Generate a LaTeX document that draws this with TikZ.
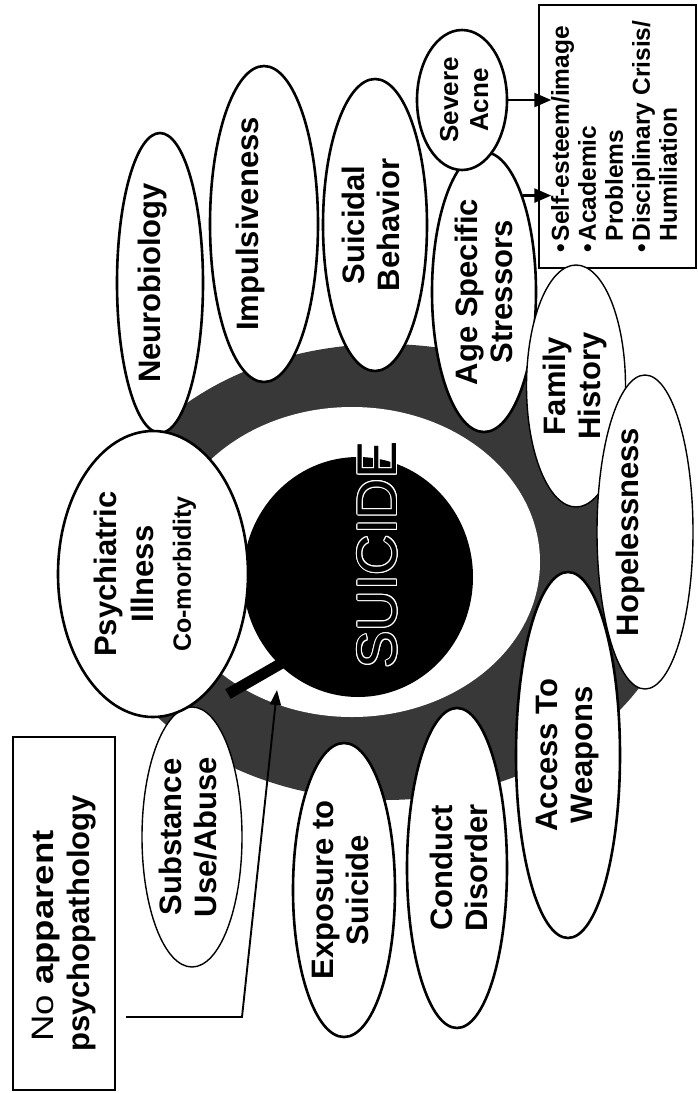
\documentclass[tikz,border=0pt]{standalone}
\usepackage{fontspec}
\setmainfont{Liberation Sans}
\usepackage{graphicx}
\usetikzlibrary{shapes.geometric,arrows.meta,calc}
\definecolor{ringgray}{gray}{0.22}
\newcommand{\rlab}[3]{\hspace*{#1}\rotatebox{90}{\begin{tabular}{@{}c@{}}#3\end{tabular}}\hspace*{#2}}
\newcommand{\bul}{\makebox[11pt][l]{•}}
\begin{document}
\begin{tikzpicture}[x=1pt,y=-1pt,
  bub/.style={ellipse, draw, line width=2.6pt, fill=white, inner sep=0pt, text=black, font=\fontsize{31}{35}\selectfont\bfseries},
  thinbub/.style={bub, line width=1.4pt},
  arr/.style={line width=2.6pt, -{Triangle[length=17pt,width=14pt]}},
  thinarr/.style={line width=1.9pt, -{Triangle[length=15pt,width=11pt]}},
  bigword/.style={rotate=90, inner sep=0pt, font=\fontsize{56}{60}\selectfont}
]
\useasboundingbox (0,0) rectangle (697,1093);
\fill[white] (0,0) rectangle (697,1093);

% rings
\fill[ringgray] (385,572) ellipse [x radius=295pt, y radius=228pt];
\fill[white] (352,562) ellipse [x radius=188pt, y radius=155pt];
\node[ellipse, fill=black, inner sep=0pt, minimum width=230pt, minimum height=240pt] (disk) at (358,577) {};

% SUICIDE with white outline
\foreach \a in {0,30,...,330}
  \node[bigword, text=white] (sw\a) at ($(377.5,555)+(\a:1.1pt)$) {SUICIDE};
\node[bigword, text=black] (suicide) at (377.5,555) {SUICIDE};

% thick band from Psychiatric towards the centre
\coordinate (bandA) at (228,694);
\draw[line width=11pt, shorten >=-15pt] (bandA) -- (disk.228);

% boxes
\node[draw, line width=2pt, minimum width=102pt, minimum height=353pt, inner sep=0pt,
      font=\fontsize{31}{36}\selectfont\bfseries] (nap) at (64,913.5)
  {\rotatebox{90}{\begin{tabular}{@{}l@{\hspace{20pt}}}\hspace{10pt}\scalebox{1.18}[1]{{\mdseries No} apparent}\\psychopathology\end{tabular}}};

\node[draw, line width=1.5pt, minimum width=157pt, minimum height=263pt, inner sep=0pt,
      font=\fontsize{24.5}{27}\selectfont\bfseries] (rbox) at (617.5,136.5)
  {\rotatebox{90}{\begin{tabular}{@{}l@{}}\bul Self-esteem/image\\\bul Academic\\\hspace{11pt}Problems\\\bul Disciplinary Crisis/\\\hspace{11pt}Humiliation\end{tabular}}};

% thin connector from the "No apparent psychopathology" box
\coordinate (n1) at (242,1017);
\coordinate (n0) at ($(nap.east |- n1)+(10,0)$);
\coordinate (ntip) at (277,690);
\draw[thinarr] (n0) -- (n1) -- (ntip);

% bubbles
\node[bub, minimum width=86pt, minimum height=300pt] (neuro) at (160,283) {\rlab{-14pt}{0pt}{Neurobiology}};
\node[bub, minimum width=108pt, minimum height=316pt] (impul) at (264,224) {\rlab{-26pt}{0pt}{Impulsiveness}};
\node[bub, minimum width=104pt, minimum height=292pt] (suibeh) at (375,225) {\rlab{0pt}{0pt}{Suicidal\\Behavior}};
\node[bub, minimum width=104pt, minimum height=280pt] (age) at (484,292) {\rlab{0pt}{-8pt}{Age Specific\\Stressors}};
\node[bub, minimum width=90pt, minimum height=140pt, font=\fontsize{26}{30}\selectfont\bfseries] (acne) at (462,100) {\rlab{0pt}{-10pt}{Severe\\Acne}};
\node[thinbub, minimum width=98pt, minimum height=242pt] (family) at (576,386) {\rlab{0pt}{0pt}{Family\\History}};
\node[bub, minimum width=104pt, minimum height=366pt] (access) at (568,755) {\rlab{0pt}{0pt}{Access To\\Weapons}};
\node[thinbub, minimum width=96pt, minimum height=314pt] (hope) at (645,532) {\rlab{-28pt}{0pt}{Hopelessness}};
\node[bub, minimum width=100pt, minimum height=320pt] (conduct) at (457,868) {\rlab{0pt}{-12pt}{Conduct\\Disorder}};
\node[bub, minimum width=102pt, minimum height=294pt] (expo) at (344,890) {\rlab{0pt}{0pt}{Exposure to\\Suicide}};
\node[thinbub, minimum width=100pt, minimum height=260pt] (subst) at (192,837) {\rlab{0pt}{0pt}{Substance\\Use/Abuse}};
\node[bub, minimum width=190pt, minimum height=286pt, font=\fontsize{31}{37}\selectfont\bfseries] (psy) at (153,574)
  {\rlab{-13pt}{0pt}{Psychiatric\\Illness\\{\fontsize{25}{30}\selectfont Co-morbidity}}};

% arrows into the right box
\coordinate (boxin) at ($(rbox.west)+(13,0)$);
\draw[arr] (acne.east) -- (acne.east -| boxin);
\draw[arr] (age.68) -- (age.68 -| boxin);
\end{tikzpicture}
\end{document}
